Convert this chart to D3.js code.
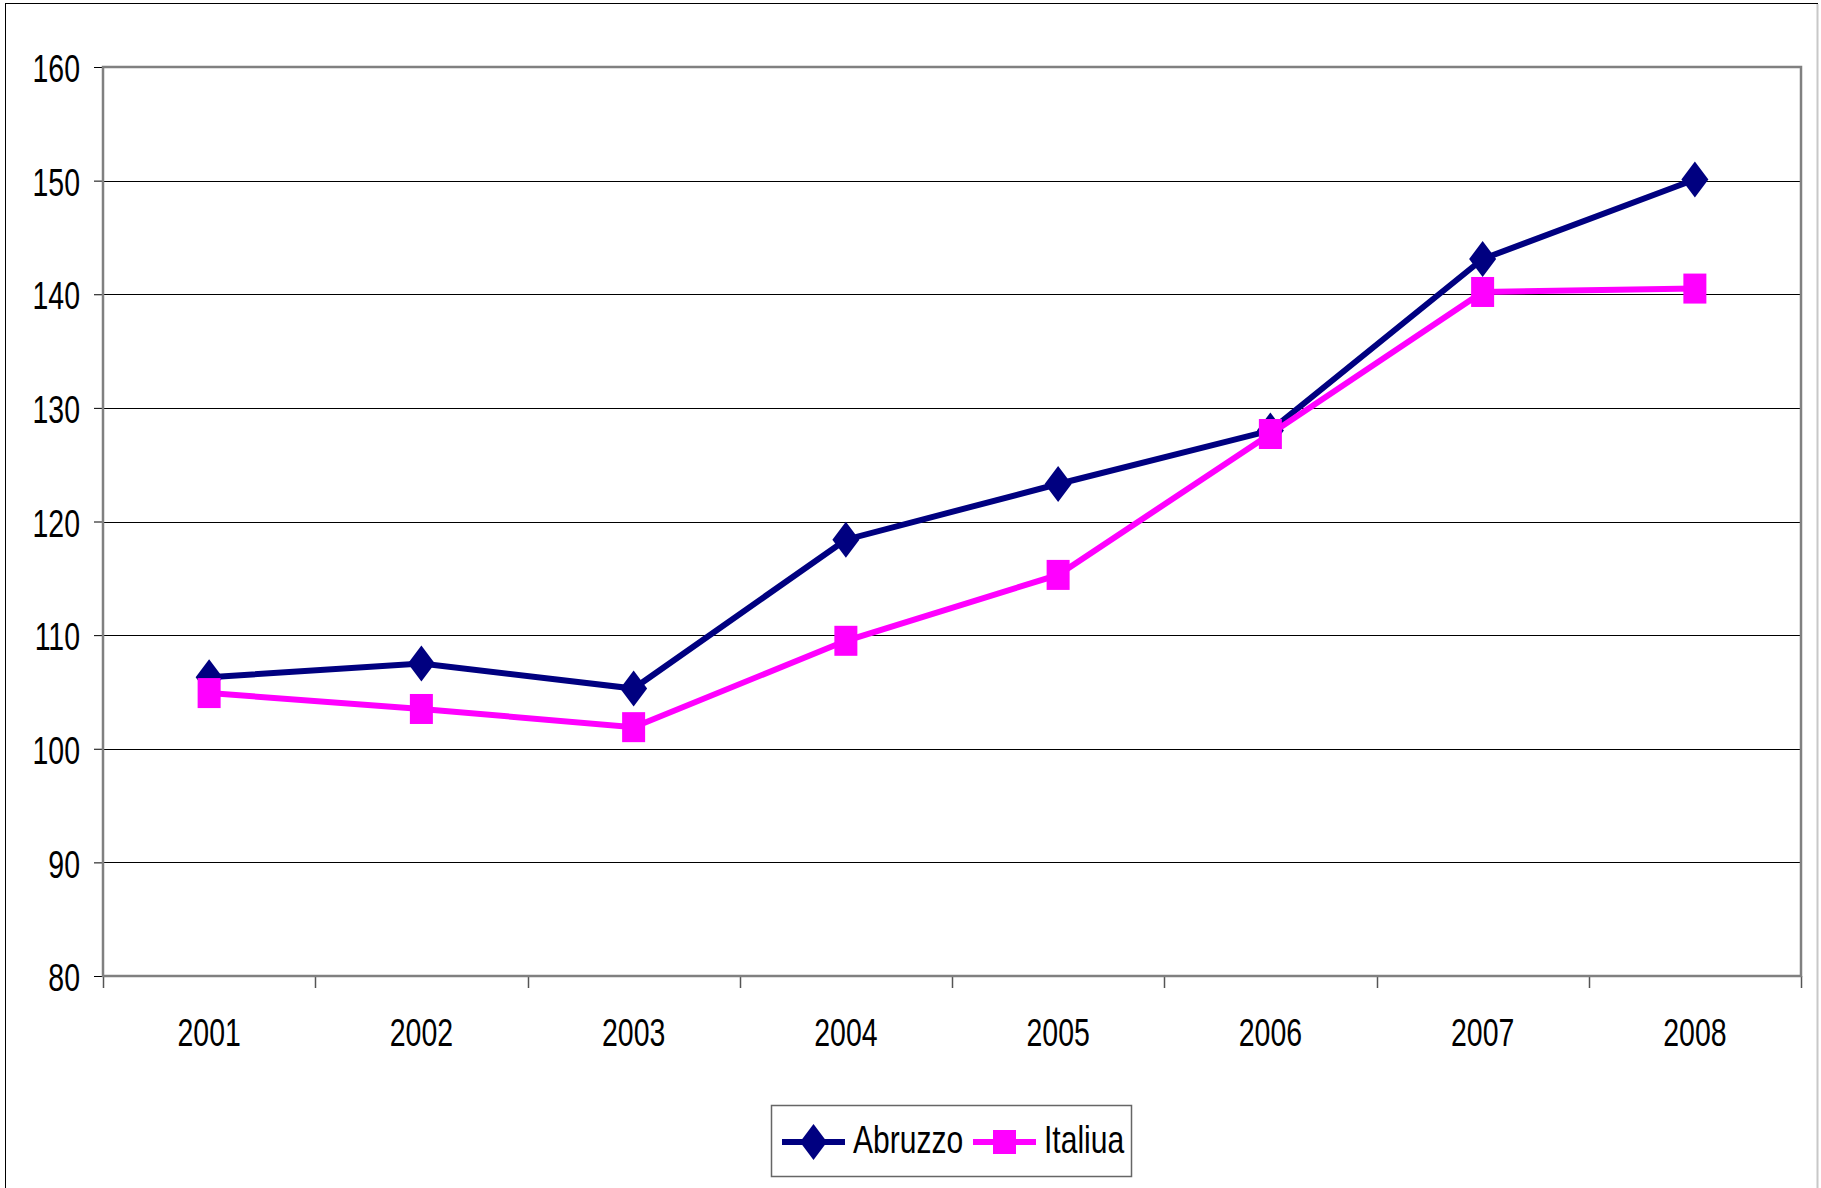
<!DOCTYPE html>
<html>
<head>
<meta charset="utf-8">
<script src="https://cdn.jsdelivr.net/npm/d3@7"></script>
<style>
  html, body { margin: 0; padding: 0; background: #fff; }
  svg { display: block; }
  text { font-family: "Liberation Sans", Arial, sans-serif; fill: #000; }
</style>
</head>
<body>
<script>
const years = ["2001", "2002", "2003", "2004", "2005", "2006", "2007", "2008"];
const abruzzo = [106.3, 107.5, 105.3, 118.4, 123.3, 128.0, 143.1, 150.1];
const italiua = [104.9, 103.5, 101.9, 109.5, 115.3, 127.7, 140.2, 140.5];
const yTicks = [80, 90, 100, 110, 120, 130, 140, 150, 160];
const seriesNames = ["Abruzzo", "Italiua"];

const W = 1821, H = 1188;
const m = { left: 103, right: 1801, top: 67, bottom: 976 };
const SX = 0.73; // horizontal squeeze for condensed look
const FS = 39;

const svg = d3.select("body").append("svg").attr("width", W).attr("height", H);

// outer border
svg.append("rect").attr("x", 5.5).attr("y", 3.5).attr("width", 1812).attr("height", 1200)
  .attr("fill", "none").attr("stroke", "#000").attr("stroke-width", 1);
svg.append("line").attr("x1", 1817.5).attr("x2", 1817.5).attr("y1", 4).attr("y2", H)
  .attr("stroke", "#c8c8c8").attr("stroke-width", 2);

const x = d3.scaleBand().domain(years).range([m.left, m.right]).padding(0);
const y = d3.scaleLinear().domain([80, 160]).range([m.bottom, m.top]);
const cx = d => x(d) + x.bandwidth() / 2;

// gridlines
svg.append("g").selectAll("line").data(yTicks.filter(v => v > 80 && v < 160)).join("line")
  .attr("x1", m.left).attr("x2", m.right)
  .attr("y1", d => Math.round(y(d)) + 0.5).attr("y2", d => Math.round(y(d)) + 0.5)
  .attr("stroke", "#000").attr("stroke-width", 1);

// y axis ticks + labels
const yAxis = d3.axisLeft(y).tickValues(yTicks).tickSize(9).tickPadding(14).tickFormat(d3.format("d"));
const gy = svg.append("g").attr("transform", `translate(${m.left},0)`).call(yAxis);
gy.select(".domain").remove();
gy.selectAll(".tick line").attr("stroke", "#000").attr("stroke-width", 1);
gy.selectAll(".tick text")
  .attr("font-size", FS).attr("fill", "#000")
  .attr("font-family", '"Liberation Sans", Arial, sans-serif')
  .each(function() {
    const t = d3.select(this);
    t.attr("x", null).attr("dy", null).attr("text-anchor", "end").attr("dominant-baseline", "central")
     .attr("transform", `translate(-23,1) scale(${SX},1)`);
  });

// x axis ticks at band boundaries
const bounds = years.map(d => x(d)).concat([m.right]);
svg.append("g").selectAll("line").data(bounds).join("line")
  .attr("x1", d => Math.round(d) + 0.5).attr("x2", d => Math.round(d) + 0.5)
  .attr("y1", m.bottom).attr("y2", m.bottom + 12)
  .attr("stroke", "#555").attr("stroke-width", 1.5);

// x labels
svg.append("g").selectAll("text").data(years).join("text")
  .attr("transform", d => `translate(${cx(d)},1046) scale(${SX},1)`)
  .attr("text-anchor", "middle").attr("font-size", FS)
  .text(d => d);

// plot frame
svg.append("rect").attr("x", m.left).attr("y", m.top)
  .attr("width", m.right - m.left).attr("height", m.bottom - m.top)
  .attr("fill", "none").attr("stroke", "#808080").attr("stroke-width", 2.5);

// series
const colors = ["#000080", "#FF00FF"];
const line = d3.line().x((d, i) => cx(years[i])).y(d => y(d));
const diamond = (px, py) => `M${px},${py - 18}L${px + 13.5},${py}L${px},${py + 18}L${px - 13.5},${py}Z`;

// Abruzzo
svg.append("path").datum(abruzzo).attr("d", line).attr("fill", "none")
  .attr("stroke", colors[0]).attr("stroke-width", 6).attr("stroke-linejoin", "miter");
svg.append("g").selectAll("path").data(abruzzo).join("path")
  .attr("d", (d, i) => diamond(cx(years[i]), y(d))).attr("fill", colors[0]);

// Italiua
svg.append("path").datum(italiua).attr("d", line).attr("fill", "none")
  .attr("stroke", colors[1]).attr("stroke-width", 6).attr("stroke-linejoin", "miter");
svg.append("g").selectAll("rect").data(italiua).join("rect")
  .attr("x", (d, i) => cx(years[i]) - 11.5).attr("y", d => y(d) - 15)
  .attr("width", 23).attr("height", 30).attr("fill", colors[1]);

// legend
const lg = svg.append("g");
lg.append("rect").attr("x", 771.5).attr("y", 1105.5).attr("width", 360).attr("height", 71)
  .attr("fill", "#fff").attr("stroke", "#666").attr("stroke-width", 1.5);
const legendItems = [
  { name: seriesNames[0], color: colors[0], x0: 782, tx: 853 },
  { name: seriesNames[1], color: colors[1], x0: 973, tx: 1044 }
];
const ly = 1142;
legendItems.forEach((it, k) => {
  lg.append("line").attr("x1", it.x0).attr("x2", it.x0 + 63).attr("y1", ly).attr("y2", ly)
    .attr("stroke", it.color).attr("stroke-width", 6);
  const mx = it.x0 + 31.5;
  if (k === 0) lg.append("path").attr("d", diamond(mx, ly)).attr("fill", it.color);
  else lg.append("rect").attr("x", mx - 11.5).attr("y", ly - 12).attr("width", 23).attr("height", 24).attr("fill", it.color);
  lg.append("text").attr("transform", `translate(${it.tx},${ly + 11}) scale(0.77,1)`)
    .attr("font-size", FS).text(it.name);
});
</script>
</body>
</html>
